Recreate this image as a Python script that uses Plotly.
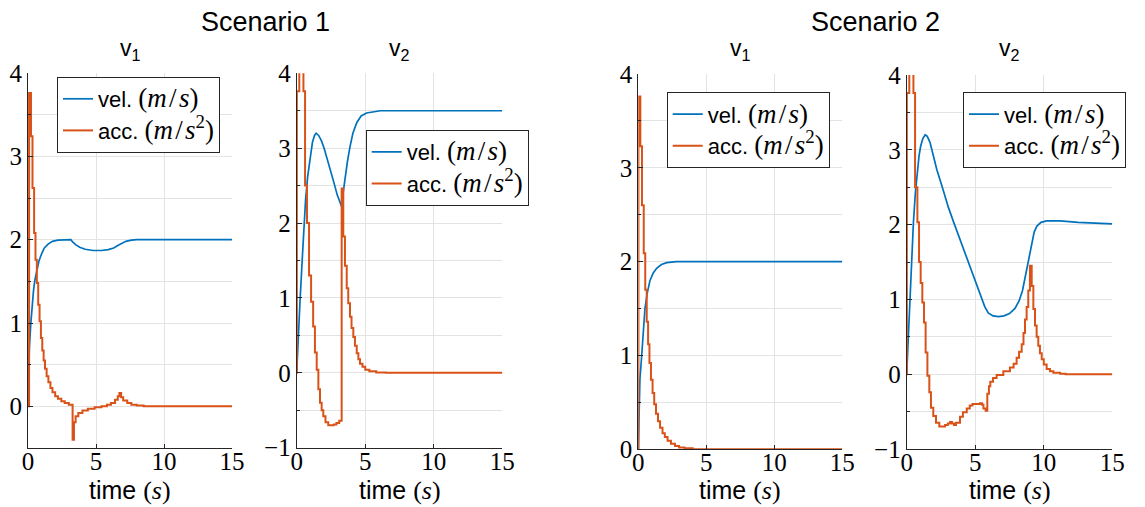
import plotly.graph_objects as go

# ---- Scenario 1, vehicle 1 ----
s1v1_vel_t = [0, 0.05, 0.1, 0.2, 0.3, 0.4, 0.5, 0.65, 0.8, 1.0, 1.2, 1.5, 1.8, 2.2, 2.6, 3.15,
              3.3, 3.5, 3.8, 4.2, 4.8, 5.4, 5.9, 6.3, 6.6, 6.9, 7.2, 7.6, 8.0, 15]
s1v1_vel = [0, 0.45, 0.7, 0.98, 1.2, 1.38, 1.51, 1.64, 1.74, 1.83, 1.9, 1.95, 1.98, 1.995, 2.0, 2.0,
            1.97, 1.94, 1.91, 1.885, 1.87, 1.87, 1.88, 1.9, 1.93, 1.96, 1.98, 1.995, 2.0, 2.0]
s1v1_acc_t = [0, 0.08, 0.22, 0.33, 0.45, 0.55, 0.65, 0.75, 0.85, 0.95, 1.05, 1.15, 1.25, 1.37, 1.5,
              1.65, 1.8, 2.0, 2.2, 2.45, 2.7, 3.0, 3.28, 3.38, 3.5, 3.7, 4.0, 4.4, 4.9, 5.4, 5.8,
              6.1, 6.4, 6.6, 6.72, 6.85, 7.0, 7.3, 7.6, 8.0, 8.5, 15]
s1v1_acc = [0, 3.76, 3.24, 2.62, 2.08, 1.76, 1.48, 1.22, 1.02, 0.82, 0.67, 0.55, 0.45, 0.36, 0.29,
            0.22, 0.17, 0.12, 0.09, 0.06, 0.04, 0.02, -0.40, -0.19, -0.12, -0.08, -0.05, -0.03, -0.01, 0.0, 0.02,
            0.04, 0.08, 0.12, 0.16, 0.11, 0.07, 0.04, 0.02, 0.01, 0.0, 0.0]

# ---- Scenario 1, vehicle 2 ----
s1v2_vel_t = [0, 0.1, 0.24, 0.4, 0.53, 0.65, 0.8, 0.97, 1.15, 1.3, 1.42, 1.6, 1.8, 2.0, 2.2, 2.45,
              2.7, 2.95, 3.15, 3.28, 3.4, 3.52, 3.7, 3.89, 4.1, 4.38, 4.7, 5.1, 5.6, 6.1, 15]
s1v2_vel = [0, 0.45, 0.95, 1.5, 1.98, 2.32, 2.62, 2.88, 3.08, 3.17, 3.2, 3.17, 3.1, 3.0, 2.88, 2.72,
            2.55, 2.38, 2.27, 2.22, 2.42, 2.6, 2.82, 3.02, 3.2, 3.34, 3.43, 3.47, 3.49, 3.5, 3.5]
s1v2_acc_t = [0, 0.01, 0.19, 0.49, 0.61, 0.75, 0.9, 1.05, 1.2, 1.33, 1.46, 1.58, 1.7, 1.82, 1.94,
              2.1, 2.3, 2.7, 2.9, 3.1, 3.28, 3.4, 3.52, 3.65, 3.76, 3.89, 4.0, 4.13, 4.25, 4.38,
              4.5, 4.62, 4.8, 5.0, 5.3, 5.8, 6.5, 15]
s1v2_acc = [0, 3.76, 4.06, 3.76, 2.5, 2.0, 1.3, 0.95, 0.62, 0.27, 0.04, -0.22, -0.40, -0.50, -0.58,
            -0.66, -0.70, -0.69, -0.67, -0.64, 2.46, 1.82, 1.43, 1.13, 0.93, 0.75, 0.6, 0.48, 0.36, 0.26,
            0.18, 0.12, 0.08, 0.04, 0.02, 0.005, 0, 0]

# ---- Scenario 2, vehicle 1 ----
s2v1_vel_t = [0, 0.05, 0.12, 0.25, 0.35, 0.49, 0.65, 0.86, 1.1, 1.35, 1.7, 2.1, 2.8, 15]
s2v1_vel = [0, 0.48, 0.75, 1.0, 1.25, 1.5, 1.66, 1.8, 1.88, 1.93, 1.97, 1.99, 2.0, 2.0]
s2v1_acc_t = [0, 0.01, 0.15, 0.27, 0.4, 0.51, 0.62, 0.72, 0.82, 0.93, 1.05, 1.17, 1.3, 1.45, 1.6,
              1.78, 1.95, 2.15, 2.4, 2.7, 3.0, 3.4, 4.0, 15]
s2v1_acc = [0, 3.76, 3.23, 2.6, 2.09, 1.70, 1.36, 1.12, 0.92, 0.74, 0.6, 0.48, 0.38, 0.3, 0.23,
            0.17, 0.13, 0.09, 0.06, 0.035, 0.02, 0.01, 0.0, 0]

# ---- Scenario 2, vehicle 2 ----
s2v2_vel_t = [0, 0.1, 0.24, 0.36, 0.49, 0.63, 0.78, 0.9, 1.02, 1.18, 1.35, 1.5, 1.7, 1.95, 2.19,
              2.6, 3.04, 3.45, 3.89, 4.3, 4.74, 5.1, 5.47, 5.7, 5.95, 6.3, 6.7, 7.1, 7.5, 7.9,
              8.2, 8.45, 8.7, 8.9, 9.12, 9.3, 9.5, 9.8, 10.2, 11.2, 12.5, 15]
s2v2_vel = [0, 0.45, 0.96, 1.5, 2.03, 2.42, 2.74, 2.92, 3.05, 3.15, 3.2, 3.18, 3.1, 2.92, 2.74,
            2.5, 2.23, 2.02, 1.8, 1.6, 1.40, 1.22, 1.03, 0.9, 0.82, 0.78, 0.77, 0.78, 0.81, 0.88,
            0.98, 1.12, 1.35, 1.55, 1.76, 1.9, 1.98, 2.03, 2.05, 2.05, 2.03, 2.01]
s2v2_acc_t = [0, 0.01, 0.19, 0.49, 0.61, 0.78, 0.9, 1.02, 1.14, 1.26, 1.38, 1.51, 1.65, 1.77, 1.94,
              2.14, 2.38, 2.6, 2.8, 3.0, 3.16, 3.3, 3.45, 3.6, 3.89, 4.1, 4.38, 4.6, 4.8, 5.1,
              5.35, 5.5, 5.6, 5.76, 5.88, 6.0, 6.1, 6.3, 6.56, 7.05, 7.53, 7.8, 8.02, 8.2, 8.39,
              8.52, 8.63, 8.75, 8.87, 8.99, 9.12, 9.24, 9.36, 9.48, 9.6, 9.72, 9.85, 10.0, 10.21,
              10.45, 10.7, 11.2, 11.6, 15]
s2v2_acc = [0, 3.76, 4.06, 3.76, 2.5, 2.03, 1.5, 1.22, 0.96, 0.69, 0.29, -0.02, -0.24, -0.45, -0.56,
            -0.65, -0.70, -0.70, -0.68, -0.66, -0.64, -0.66, -0.68, -0.65, -0.57, -0.51, -0.46, -0.42, -0.40, -0.40,
            -0.39, -0.41, -0.46, -0.49, -0.26, -0.16, -0.10, -0.05, -0.01, 0.04, 0.09, 0.14, 0.22, 0.30, 0.40,
            0.55, 0.73, 0.9, 1.12, 1.45, 1.18, 0.87, 0.65, 0.5, 0.38, 0.28, 0.2, 0.13, 0.07,
            0.04, 0.02, 0.005, 0, 0]

panels = [
    # (vel_t, vel, acc_t, acc, y-range)
    (s1v1_vel_t, s1v1_vel, s1v1_acc_t, s1v1_acc, [-0.5, 4]),
    (s1v2_vel_t, s1v2_vel, s1v2_acc_t, s1v2_acc, [-1, 4]),
    (s2v1_vel_t, s2v1_vel, s2v1_acc_t, s2v1_acc, [0, 4]),
    (s2v2_vel_t, s2v2_vel, s2v2_acc_t, s2v2_acc, [-1, 4]),
]

W, H = 1145, 507
# plot-area edges in pixels: (left, right, top, bottom)
boxes = [(28, 232, 73, 448), (296.7, 502.3, 73.3, 447.7), (638.3, 842.3, 74, 449.3), (906.7, 1112.3, 75, 449)]
legend_pos = [(57, 77), (365.7, 130), (666.7, 92.3), (963, 92.3)]

BLUE = "#0072BD"
ORANGE = "#D95319"
SERIF = "Liberation Serif"
SANS = "Liberation Sans"
GRID = "#e3e3e3"
AXC = "#262626"

MATH = "font-family:Liberation Serif;font-size:27px"
HS = "\u200a"  # hair space for math-style spacing
vel_name = f"vel. <span style=\"{MATH}\">(<i>m</i>{HS}/{HS}<i>s</i>)</span>"
acc_name = f"acc. <span style=\"{MATH}\">(<i>m</i>{HS}/{HS}<i>s</i><sup>2</sup>)</span>"

fig = go.Figure()
layout = dict(
    width=W, height=H,
    margin=dict(l=0, r=0, t=0, b=0, autoexpand=False),
    paper_bgcolor="white", plot_bgcolor="white",
    showlegend=True,
)

for i, (vt, v, at, a, yr) in enumerate(panels):
    n = i + 1
    xa = "x" if n == 1 else f"x{n}"
    ya = "y" if n == 1 else f"y{n}"
    lg = "legend" if n == 1 else f"legend{n}"
    fig.add_trace(go.Scatter(x=vt, y=v, mode="lines", name=vel_name,
                             line=dict(color=BLUE, width=1.7),
                             xaxis=xa, yaxis=ya, legend=lg))
    fig.add_trace(go.Scatter(x=at, y=a, mode="lines", name=acc_name,
                             line=dict(color=ORANGE, width=2, shape="hv"),
                             xaxis=xa, yaxis=ya, legend=lg))

    l, r, t, b = boxes[i]
    xkey = "xaxis" if n == 1 else f"xaxis{n}"
    ykey = "yaxis" if n == 1 else f"yaxis{n}"
    layout[xkey] = dict(
        domain=[l / W, r / W], anchor=ya, range=[0, 15], automargin=False,
        tickvals=[0, 5, 10, 15], showgrid=True, gridcolor=GRID, gridwidth=1,
        zeroline=False, showline=True, linecolor=AXC, linewidth=1,
        ticks="inside", ticklen=4, tickcolor=AXC, ticklabelstandoff=-9,
        tickfont=dict(family=SERIF, size=25, color="black"),
    )
    layout[ykey] = dict(
        domain=[(H - b) / H, (H - t) / H], anchor=xa, range=yr, automargin=False,
        tickmode="linear", tick0=0, dtick=1, showgrid=True, gridcolor=GRID, gridwidth=1,
        minor=dict(dtick=0.5, tick0=0, showgrid=True, gridcolor=GRID, gridwidth=1,
                   ticks="inside", ticklen=3, tickcolor=AXC),
        zeroline=False, showline=True, linecolor=AXC, linewidth=1,
        ticks="inside", ticklen=5, tickcolor=AXC,
        tickfont=dict(family=SERIF, size=25, color="black"),
    )
    lx, ly = legend_pos[i]
    layout[lg] = dict(
        x=lx / W, y=(H - ly) / H, xanchor="left", yanchor="top",
        xref="paper", yref="paper",
        bgcolor="white", bordercolor=AXC, borderwidth=1,
        font=dict(family=SANS, size=22, color="black"),
        tracegroupgap=0,
    )

fig.update_layout(**layout)

annotations = []
# scenario headings
for label, cx in [("Scenario 1", (28 + 502.3) / 2), ("Scenario 2", (638.3 + 1112.3) / 2)]:
    annotations.append(dict(text=label, x=cx / W, y=(H - 22) / H, xref="paper", yref="paper",
                            showarrow=False, xanchor="center", yanchor="middle",
                            font=dict(family=SANS, size=27, color="black")))
# per-vehicle titles and x-axis labels
for i, sub in enumerate(["1", "2", "1", "2"]):
    l, r, t, b = boxes[i]
    cx = (l + r) / 2
    annotations.append(dict(text=f"v<sub>{sub}</sub>", x=cx / W, y=(H - 49) / H,
                            xref="paper", yref="paper", showarrow=False,
                            xanchor="center", yanchor="middle",
                            font=dict(family=SANS, size=23, color="black")))
    annotations.append(dict(text="time <span style=\"font-family:Liberation Serif;font-size:26px\">(<i>s</i>)</span>",
                            x=cx / W, y=(H - 490) / H, xref="paper", yref="paper",
                            showarrow=False, xanchor="center", yanchor="middle",
                            font=dict(family=SANS, size=25, color="black")))
fig.update_layout(annotations=annotations)

fig.write_html("out.html")
